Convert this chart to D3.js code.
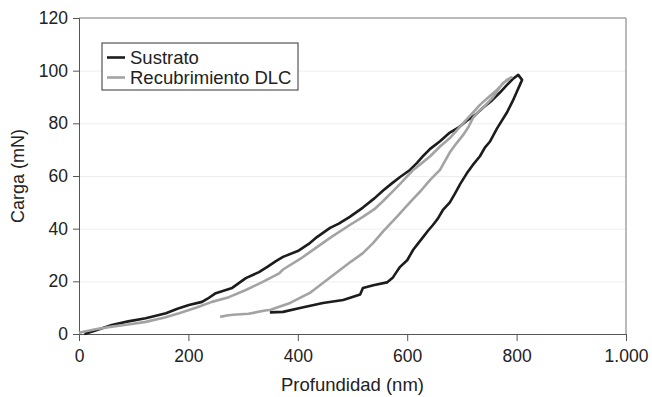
<!DOCTYPE html>
<html>
<head>
<meta charset="utf-8">
<script src="https://cdn.jsdelivr.net/npm/d3@7"></script>
<style>
  body { margin: 0; background: #fff; }
  svg text { font-family: "Liberation Sans", Arial, sans-serif; fill: #222; }
  .grid line { stroke: #eeeeee; }
  .grid .domain { display: none; }
  .axis path, .axis line { stroke: #555; }
</style>
</head>
<body>
<div id="chart"></div>
<script>
// loading + unloading curve, [depth nm, load mN]
const sustrato = [
  [10, 0], [30, 1.3], [60, 3.4], [90, 4.8], [122, 6], [159, 7.9], [180, 9.6], [201, 11],
  [225, 12.2], [235, 13.4], [250, 15.5], [280, 17.5], [305, 21.2], [329, 23.5], [345, 25.6],
  [360, 27.7], [373, 29.3], [400, 31.5], [420, 34.2], [435, 36.8], [459, 40.3], [475, 41.9],
  [495, 44.5], [519, 48], [540, 51.5], [556, 54.5], [572, 57.2], [587, 59.6],
  [605, 62.3], [618, 65], [630, 67.8], [642, 70.3], [660, 73.2], [678, 76.5], [695, 78.6],
  [709, 81], [725, 83.3], [739, 86], [755, 88.7], [770, 91.8], [782, 94.5],
  [793, 96.8], [803, 98.4], [810, 96.5],
  [806, 94.6], [800, 91.8], [793, 88.5], [782, 84], [764, 78], [751, 73], [742, 70.8], [733, 67.5],
  [720, 64.2], [709, 61], [697, 57], [688, 53.6], [678, 50], [665, 47], [656, 43.8], [647, 41.4],
  [638, 39.2], [629, 36.8], [620, 34.4], [611, 32], [600, 28],
  [587, 25.5], [580, 23.4], [574, 21.5], [563, 19.6], [540, 18.6], [519, 17.5], [514, 15],
  [483, 12.9], [446, 11.8], [425, 10.8], [404, 9.9], [373, 8.4], [349, 8.2]
];
const recubrimiento = [
  [0, 0.5], [30, 1.8], [60, 2.8], [90, 3.6], [122, 4.6], [155, 6.2], [183, 7.9], [215, 10.1],
  [243, 12.2], [274, 14], [305, 16.7], [335, 19.7], [366, 23], [373, 24.5], [405, 28.6],
  [435, 33], [459, 36.5], [495, 41.4], [519, 44.5], [540, 47.4], [556, 50.5], [570, 53.4],
  [587, 57], [611, 62.3], [625, 64.6], [642, 67.5], [660, 71.2], [678, 74.4], [702, 80],
  [718, 83.6], [733, 87], [748, 89.8], [764, 92.7], [782, 96.5], [791, 97.5],
  [775, 95.3], [757, 90], [739, 86], [733, 85], [720, 82], [712, 78.6], [702, 75.5],
  [690, 72.4], [678, 69], [660, 62.3], [642, 58.5], [625, 54.4], [605, 50], [581, 44.5],
  [556, 39], [538, 34.6], [519, 30.7], [498, 27.6], [477, 24.3],
  [453, 20.5], [422, 15.6], [386, 11.8], [349, 9.1], [343, 9], [310, 7.7], [282, 7.3],
  [270, 7], [258, 6.5]
];
const seriesNames = ["Sustrato", "Recubrimiento DLC"];
const seriesColors = ["#1c1c1c", "#a3a3a3"];
const xTicks = [0, 200, 400, 600, 800, 1000];
const yTicks = [0, 20, 40, 60, 80, 100, 120];

const svg = d3.select("#chart").append("svg")
    .attr("width", 652)
    .attr("height", 397);

const margin = {top: 18, right: 26, bottom: 63, left: 79};
const width = 652 - margin.left - margin.right;
const height = 397 - margin.top - margin.bottom;
const g = svg.append("g").attr("transform", "translate(" + margin.left + "," + margin.top + ")");

const x = d3.scaleLinear().domain([0, 1000]).range([0, width]);
const y = d3.scaleLinear().domain([0, 120]).range([height, 0]);

g.append("g")
    .attr("class", "grid")
    .call(d3.axisLeft(y).tickValues(yTicks.slice(1, -1)).tickSize(-width).tickFormat(""));

// frame top/right
g.append("path")
    .attr("d", "M0,0H" + width + "V" + height)
    .attr("fill", "none")
    .attr("stroke", "#777");

const fmt = d => d3.format(",")(d).replace(",", ".");

const xAxis = g.append("g")
    .attr("class", "axis")
    .attr("transform", "translate(0," + height + ")")
    .call(d3.axisBottom(x).tickValues(xTicks).tickSize(7).tickPadding(6).tickFormat(fmt));
xAxis.selectAll("text").style("font-size", "17.5px").attr("dy", "0.88em");

const yAxis = g.append("g")
    .attr("class", "axis")
    .call(d3.axisLeft(y).tickValues(yTicks).tickSize(6).tickPadding(5));
yAxis.selectAll("text").style("font-size", "17.5px");

const line = d3.line()
    .x(d => x(d[0]))
    .y(d => y(d[1]));

[sustrato, recubrimiento].forEach((data, i) => {
    g.append("path")
        .datum(data)
        .attr("fill", "none")
        .attr("stroke", seriesColors[i])
        .attr("stroke-width", 2.6)
        .attr("stroke-linejoin", "round")
        .attr("d", line);
});

svg.append("text")
    .attr("x", margin.left + width / 2)
    .attr("y", 391)
    .attr("text-anchor", "middle")
    .style("font-size", "18.5px")
    .text("Profundidad (nm)");

svg.append("text")
    .attr("transform", "translate(24," + (margin.top + height / 2) + ") rotate(-90)")
    .attr("text-anchor", "middle")
    .style("font-size", "18px")
    .text("Carga (mN)");

// legend
const legend = svg.append("g").attr("transform", "translate(102,43)");
legend.append("rect")
    .attr("width", 196)
    .attr("height", 47)
    .attr("fill", "#fff")
    .attr("stroke", "#333");
seriesNames.forEach((name, i) => {
    const row = legend.append("g").attr("transform", "translate(0," + (14.5 + i * 20) + ")");
    row.append("line")
        .attr("x1", 5).attr("x2", 23)
        .attr("stroke", seriesColors[i])
        .attr("stroke-width", 2.6);
    row.append("text")
        .attr("x", 28)
        .attr("dy", "0.35em")
        .style("font-size", "18.5px")
        .text(name);
});
</script>
</body>
</html>
